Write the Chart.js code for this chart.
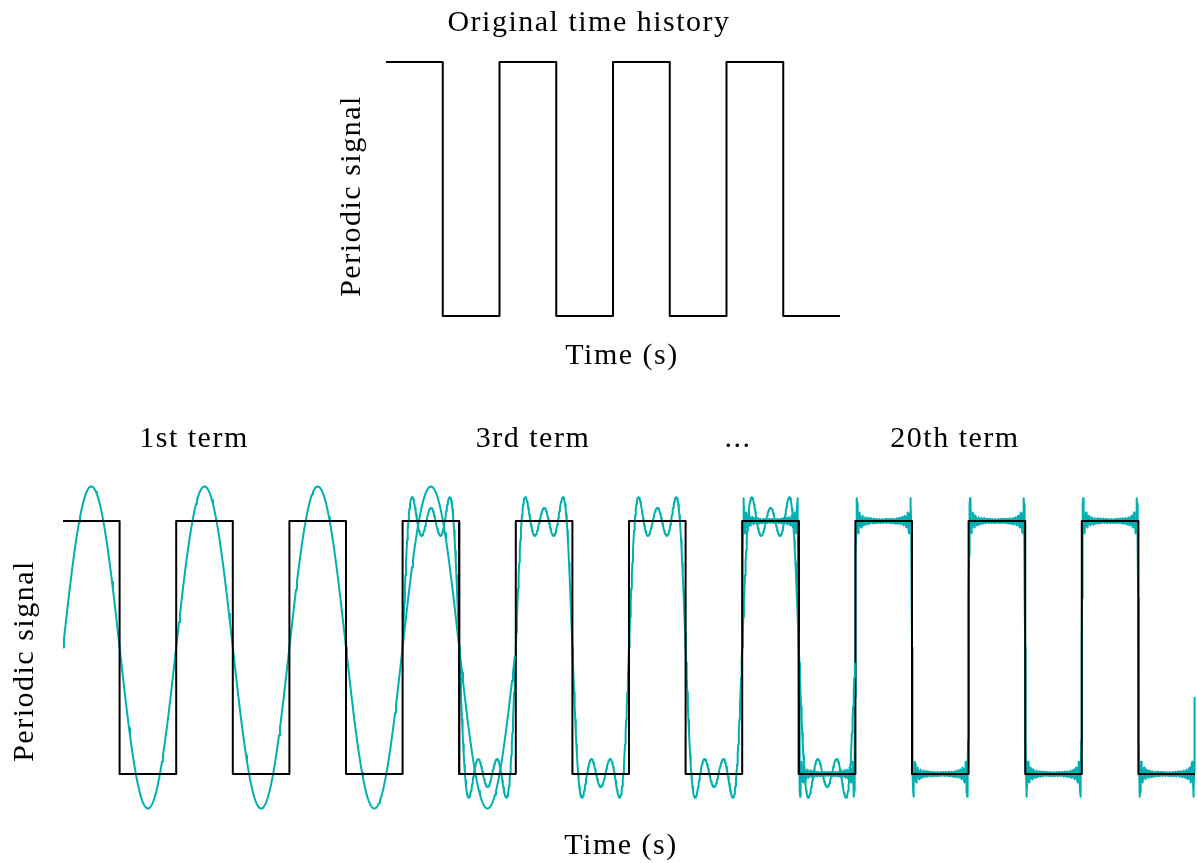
<!DOCTYPE html>
<html>
<head>
<meta charset="utf-8">
<script src="https://cdn.jsdelivr.net/npm/chart.js@4"></script>
<style>
body { margin: 0; background: #fff; width: 1197px; height: 863px; overflow: hidden; position: relative; }
canvas { position: absolute; left: 0; }
</style>
</head>
<body>
<canvas id="topChart" width="1197" height="400" style="top:0px"></canvas>
<canvas id="bottomChart" width="1197" height="463" style="top:400px"></canvas>
<script>
// square wave, one value per half period, starting high
var squareLevels = [1, -1];
var topPeriods = 4;
var bottomPeriods = 10;

// Fourier partial sums in the lower panel (number of odd harmonics summed)
var termLabels = ['1st term', '3rd term', '...', '20th term'];
var termCounts = [1, 3, 20];
var segmentStarts = [0, 3, 6];   // in periods
var segmentLength = 4;            // periods per segment
var samplesPerPeriod = [120, 200, 400];

var black = '#000000';
var cyan = '#00b0b0';
var font = '30px "Liberation Serif", "DejaVu Serif", serif';

function squareWave(start, periods) {
    var pts = [];
    for (var k = 0; k < periods * 2; k++) {
        var level = squareLevels[k % 2];
        pts.push({x: start + k / 2, y: level});
        pts.push({x: start + (k + 1) / 2, y: level});
    }
    return pts;
}

function partialSum(start, periods, terms, spp) {
    var pts = [];
    var n = periods * spp;
    for (var i = 0; i < n; i++) {
        var t = start + i / spp;
        var s = 0;
        for (var k = 1; k <= terms; k++) {
            var h = 2 * k - 1;
            s += Math.sin(2 * Math.PI * h * t) / h;
        }
        pts.push({x: t, y: 4 / Math.PI * s});
    }
    return pts;
}

var textPlugin = {
    id: 'texts',
    afterDraw: function(chart, args, opts) {
        var ctx = chart.ctx;
        ctx.save();
        ctx.fillStyle = '#000';
        ctx.textAlign = 'center';
        ctx.textBaseline = 'middle';
        ctx.font = font;
        ctx.letterSpacing = '1.5px';
        opts.items.forEach(function(it) {
            ctx.save();
            ctx.translate(it.x, it.y);
            if (it.rotate) ctx.rotate(it.rotate);
            ctx.fillText(it.text, 0, 0);
            ctx.restore();
        });
        ctx.restore();
    }
};

function baseOptions(xmax, padding, items) {
    return {
        responsive: false,
        animation: false,
        layout: { padding: padding },
        elements: {
            point: { radius: 0 },
            line: { borderWidth: 2, tension: 0, borderJoinStyle: 'round', borderCapStyle: 'butt' }
        },
        scales: {
            x: { type: 'linear', display: false, min: 0, max: xmax },
            y: { display: false, min: -1, max: 1 }
        },
        plugins: {
            legend: { display: false },
            tooltip: { enabled: false },
            texts: { items: items }
        }
    };
}

// top panel: original time history
new Chart(document.getElementById('topChart'), {
    type: 'line',
    data: {
        datasets: [{
            data: squareWave(0, topPeriods),
            borderColor: black,
            clip: false
        }]
    },
    options: baseOptions(topPeriods, {left: 386, right: 357, top: 62, bottom: 84}, [
        {text: 'Original time history', x: 589, y: 23},
        {text: 'Periodic signal', x: 352, y: 196, rotate: -Math.PI / 2},
        {text: 'Time (s)', x: 622, y: 356}
    ]),
    plugins: [textPlugin]
});

// bottom panel: square wave with Fourier approximations
var bottomSets = [];
for (var i = 0; i < termCounts.length; i++) {
    bottomSets.push({
        data: squareWave(segmentStarts[i], segmentLength),
        borderColor: black,
        clip: false
    });
    bottomSets.push({
        data: partialSum(segmentStarts[i], segmentLength, termCounts[i], samplesPerPeriod[i]),
        borderColor: cyan,
        clip: false
    });
}

new Chart(document.getElementById('bottomChart'), {
    type: 'line',
    data: { datasets: bottomSets },
    options: baseOptions(bottomPeriods, {left: 63, right: 2, top: 121, bottom: 89}, [
        {text: termLabels[0], x: 194, y: 39},
        {text: termLabels[1], x: 533, y: 39},
        {text: termLabels[2], x: 738, y: 39},
        {text: termLabels[3], x: 955, y: 39},
        {text: 'Periodic signal', x: 25, y: 261, rotate: -Math.PI / 2},
        {text: 'Time (s)', x: 621, y: 446}
    ]),
    plugins: [textPlugin]
});
</script>
</body>
</html>
